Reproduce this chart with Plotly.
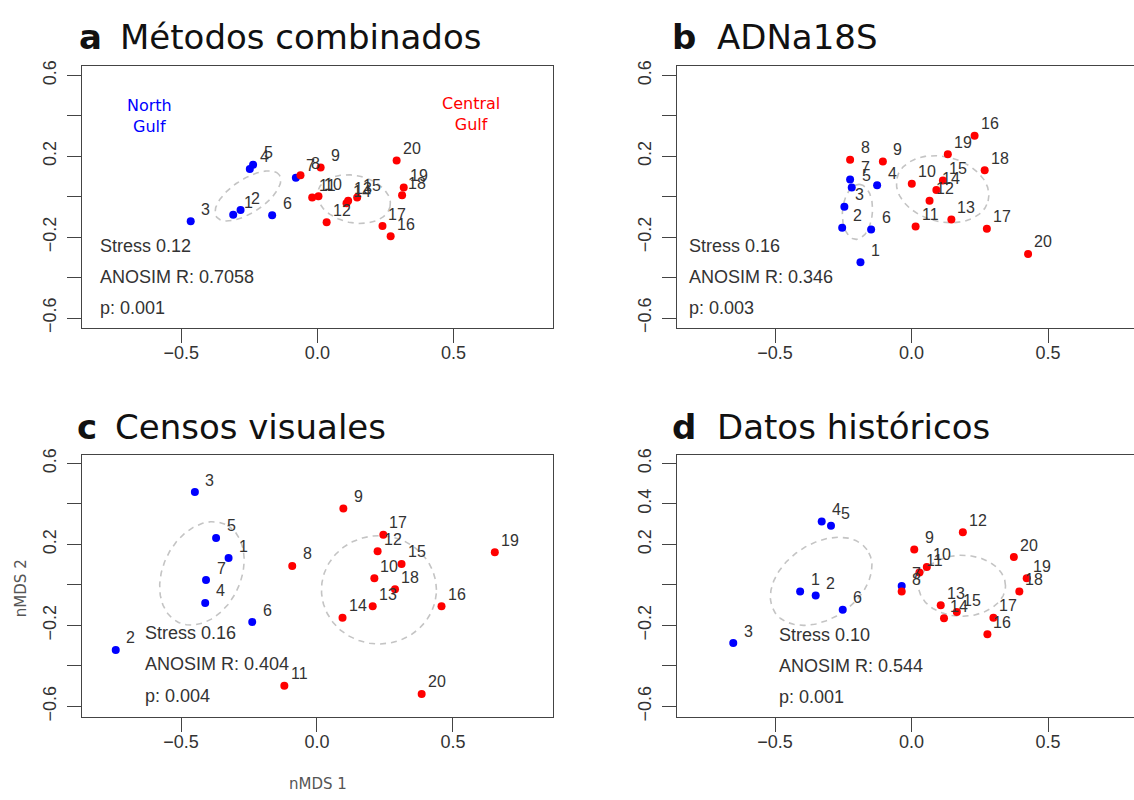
import numpy as np
import plotly.graph_objects as go

# ---------------- data ----------------
sites = [str(i) for i in range(1, 21)]
region = ["North"] * 7 + ["Central"] * 13

a_x = [-0.309, -0.282, -0.465, -0.248, -0.236, -0.166, -0.079, -0.062, 0.012, 0.004,
       -0.019, 0.034, 0.113, 0.107, 0.146, 0.269, 0.239, 0.311, 0.317, 0.291]
a_y = [-0.089, -0.066, -0.121, 0.137, 0.158, -0.092, 0.094, 0.106, 0.145, 0.002,
       -0.004, -0.126, -0.020, -0.032, -0.004, -0.196, -0.145, 0.007, 0.045, 0.179]

b_x = [-0.187, -0.254, -0.246, -0.126, -0.219, -0.148, -0.225, -0.225, -0.105, 0.001,
       0.015, 0.066, 0.146, 0.091, 0.115, 0.231, 0.276, 0.268, 0.133, 0.427]
b_y = [-0.324, -0.153, -0.050, 0.057, 0.045, -0.162, 0.085, 0.183, 0.174, 0.064,
       -0.147, -0.020, -0.113, 0.033, 0.080, 0.301, -0.158, 0.131, 0.210, -0.283]

c_x = [-0.325, -0.740, -0.449, -0.411, -0.371, -0.238, -0.408, -0.091, 0.097, 0.211,
       -0.120, 0.223, 0.205, 0.094, 0.311, 0.458, 0.244, 0.287, 0.654, 0.385]
c_y = [0.133, -0.321, 0.459, -0.089, 0.232, -0.183, 0.024, 0.094, 0.378, 0.033,
       -0.498, 0.167, -0.105, -0.162, 0.104, -0.105, 0.248, -0.021, 0.162, -0.538]

d_x = [-0.408, -0.351, -0.653, -0.329, -0.295, -0.252, -0.036, -0.036, 0.010, 0.056,
       0.029, 0.188, 0.107, 0.119, 0.166, 0.278, 0.300, 0.395, 0.422, 0.375]
d_y = [-0.032, -0.052, -0.287, 0.313, 0.292, -0.122, -0.005, -0.032, 0.175, 0.089,
       0.062, 0.260, -0.100, -0.165, -0.134, -0.243, -0.162, -0.032, 0.033, 0.138]

panel_letters = ["a", "b", "c", "d"]
panel_titles = ["Métodos combinados", "ADNa18S", "Censos visuales", "Datos históricos"]
stress = ["0.12", "0.16", "0.16", "0.10"]
anosim_r = ["0.7058", "0.346", "0.404", "0.544"]
p_values = ["0.001", "0.003", "0.004", "0.001"]

# group ellipses: centre (cx, cy) and conjugate semi-axis vectors u, v (data units)
ell_north = [(-0.255, 0.004, 0.1156, 0.1032, -0.0349, 0.0686),
             (-0.198, -0.075, 0.0073, 0.136, 0.055, -0.005),
             (-0.423, 0.057, 0.0854, 0.2424, -0.1299, 0.0802),
             (-0.331, 0.018, 0.1681, 0.1562, -0.0798, 0.1514)]
ell_central = [(0.134, -0.012, 0.1328, -0.0375, 0.0183, 0.1143),
               (0.114, 0.037, 0.1666, -0.0593, 0.0313, 0.1551),
               (0.228, -0.024, 0.2114, 0.0, 0.0, 0.2675),
               (0.185, -0.004, 0.1593, 0.0, 0.0, 0.1508)]

x_ticks = [-0.5, 0.0, 0.5]
x_ticktext = ["\u22120.5", "0.0", "0.5"]
y_ticks = [-0.6, -0.4, -0.2, 0.0, 0.2, 0.4, 0.6]
y_ticktext_std = ["\u22120.6", "", "\u22120.2", "", "0.2", "", "0.6"]
y_ticktext_d = ["\u22120.6", "", "\u22120.2", "", "0.2", "0.4", "0.6"]

# ---------------- layout geometry ----------------
W, H = 1134, 800
colors = {"North": "#0000FF", "Central": "#FF0000"}
TXT = "#333333"
SANS = "Liberation Sans, Arial, sans-serif"
DJV = "DejaVu Sans, sans-serif"

def px(x):
    return x / W

def py(y):
    return 1 - y / H

panels = [
    dict(x=a_x, y=a_y, dom_x=[px(82.3), px(553)], dom_y=[py(326), py(60)],
         xr=[-0.863, 0.865], yr=[-0.650, 0.646], full=True, yt=y_ticktext_std,
         title_px=(77, 118, 30), stats_px=(98, 243)),
    dict(x=b_x, y=b_y, dom_x=[px(677.3), 1.0], dom_y=[py(326), py(60)],
         xr=[-0.858, 0.815], yr=[-0.650, 0.646], full=False, yt=y_ticktext_std,
         title_px=(670, 715, 30), stats_px=(687, 243)),
    dict(x=c_x, y=c_y, dom_x=[px(82.3), px(553)], dom_y=[py(721), py(455)],
         xr=[-0.863, 0.868], yr=[-0.653, 0.641], full=True, yt=y_ticktext_std,
         title_px=(75, 113, 426), stats_px=(142.5, 636)),
    dict(x=d_x, y=d_y, dom_x=[px(677.3), 1.0], dom_y=[py(721), py(455)],
         xr=[-0.858, 0.815], yr=[-0.653, 0.641], full=False, yt=y_ticktext_d,
         title_px=(670, 715, 426), stats_px=(777, 638)),
]

fig = go.Figure()
annotations = []
layout_axes = {}
t = np.linspace(0, 2 * np.pi, 200)

for i, p in enumerate(panels):
    sfx = "" if i == 0 else str(i + 1)
    xa, ya = "x" + sfx, "y" + sfx
    # ellipses
    for ell in (ell_north[i], ell_central[i]):
        cx, cy, ux, uy, vx, vy = ell
        fig.add_trace(go.Scatter(
            x=cx + ux * np.cos(t) + vx * np.sin(t),
            y=cy + uy * np.cos(t) + vy * np.sin(t),
            mode="lines", line=dict(color="#c4c4c4", width=1.6, dash="6px,5px"),
            hoverinfo="skip", showlegend=False, xaxis=xa, yaxis=ya))
    # points
    fig.add_trace(go.Scatter(
        x=p["x"], y=p["y"], mode="markers",
        marker=dict(size=8, color=[colors[r] for r in region], line=dict(width=0)),
        text=sites, showlegend=False, xaxis=xa, yaxis=ya))
    # point labels
    for s, xv, yv in zip(sites, p["x"], p["y"]):
        annotations.append(dict(
            x=xv, y=yv, xref=xa, yref=ya, text=s, showarrow=False,
            xanchor="center", yanchor="middle", xshift=15, yshift=12,
            font=dict(family=SANS, size=16, color=TXT)))
    # axes
    layout_axes["xaxis" + sfx] = dict(
        domain=p["dom_x"], range=p["xr"], anchor=ya,
        tickvals=x_ticks, ticktext=x_ticktext, ticks="outside", ticklen=14,
        tickwidth=1.3, tickcolor="#444", showline=True, linecolor="#444",
        linewidth=1.3, mirror=True, showgrid=False, zeroline=False,
        ticklabelstandoff=-6, tickfont=dict(family=SANS, size=18, color=TXT))
    layout_axes["yaxis" + sfx] = dict(
        domain=p["dom_y"], range=p["yr"], anchor=xa,
        tickvals=y_ticks, ticktext=p["yt"], ticks="outside", ticklen=14,
        tickwidth=1.3, tickcolor="#444", showline=True, linecolor="#444",
        linewidth=1.3, mirror=p["full"], showgrid=False, zeroline=False,
        tickangle=-90, ticklabelstandoff=4,
        tickfont=dict(family=SANS, size=18, color=TXT))
    # titles
    lx, tx, ty = p["title_px"]
    annotations.append(dict(x=px(lx), y=py(ty), xref="paper", yref="paper",
                            text="<b>%s</b>" % panel_letters[i], showarrow=False,
                            xanchor="left", yanchor="middle",
                            font=dict(family=DJV, size=34, color="#111")))
    annotations.append(dict(x=px(tx), y=py(ty), xref="paper", yref="paper",
                            text=panel_titles[i], showarrow=False,
                            xanchor="left", yanchor="middle",
                            font=dict(family=DJV, size=34, color="#111")))
    # stats
    sx, sy = p["stats_px"]
    for k, line in enumerate(["Stress " + stress[i],
                              "ANOSIM R: " + anosim_r[i],
                              "p: " + p_values[i]]):
        annotations.append(dict(x=px(sx), y=py(sy + 31.5 * k), xref="paper",
                                yref="paper", text=line, showarrow=False,
                                xanchor="left", yanchor="middle",
                                font=dict(family=SANS, size=18, color=TXT)))

# group labels in panel a
annotations.append(dict(x=px(149), y=py(111), xref="paper", yref="paper",
                        text="North<br>Gulf", showarrow=False, align="center",
                        xanchor="center", yanchor="middle",
                        font=dict(family=DJV, size=16, color="#0000FF")))
annotations.append(dict(x=px(471), y=py(109), xref="paper", yref="paper",
                        text="Central<br>Gulf", showarrow=False, align="center",
                        xanchor="center", yanchor="middle",
                        font=dict(family=DJV, size=16, color="#FF0000")))
# axis titles
annotations.append(dict(x=px(318), y=py(789), xref="paper", yref="paper",
                        text="nMDS 1", showarrow=False,
                        xanchor="center", yanchor="middle",
                        font=dict(family=DJV, size=15, color="#555")))
annotations.append(dict(x=px(21), y=py(590), xref="paper", yref="paper",
                        text="nMDS 2", showarrow=False, textangle=-90,
                        xanchor="center", yanchor="middle",
                        font=dict(family=DJV, size=15, color="#555")))

fig.update_layout(
    width=W, height=H, margin=dict(l=0, r=0, t=0, b=0),
    paper_bgcolor="white", plot_bgcolor="white",
    annotations=annotations, showlegend=False, **layout_axes)

fig.write_html("out.html")
